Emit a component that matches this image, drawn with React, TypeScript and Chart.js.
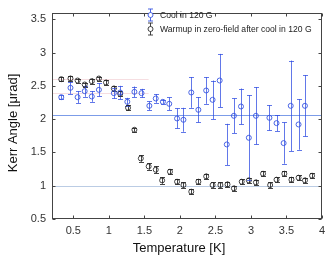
import React, { useEffect, useRef } from "react";
import { Chart, registerables } from "chart.js";

Chart.register(...registerables);

// Cool in 120 G
const coolT = [0.33, 0.46, 0.56, 0.66, 0.76, 0.86, 1.07, 1.16, 1.26, 1.36, 1.46, 1.57, 1.66, 1.76, 1.85, 1.96, 2.05, 2.16, 2.26, 2.37, 2.46, 2.56, 2.66, 2.76, 2.86, 2.97, 3.07, 3.26, 3.36, 3.46, 3.56, 3.67, 3.76];
const coolKerr = [2.33, 2.47, 2.33, 2.42, 2.34, 2.44, 2.39, 2.4, 2.26, 2.41, 2.39, 2.2, 2.31, 2.26, 2.23, 2.01, 1.99, 2.4, 2.14, 2.43, 2.29, 2.58, 1.62, 2.05, 2.19, 1.72, 2.05, 2.02, 1.94, 1.64, 2.2, 1.92, 2.2];
const coolErr = [0.03, 0.09, 0.09, 0.085, 0.08, 0.1, 0.08, 0.1, 0.06, 0.08, 0.065, 0.065, 0.065, 0.03, 0.095, 0.15, 0.18, 0.23, 0.19, 0.2, 0.29, 0.4, 0.31, 0.26, 0.27, 0.64, 0.43, 0.19, 0.12, 0.31, 0.68, 0.38, 0.46];

// Warmup in zero-field after cool in 120 G
const warmT = [0.33, 0.46, 0.56, 0.66, 0.76, 0.86, 0.96, 1.07, 1.16, 1.27, 1.36, 1.45, 1.56, 1.66, 1.75, 1.86, 1.96, 2.05, 2.16, 2.26, 2.37, 2.46, 2.57, 2.67, 2.76, 2.87, 2.97, 3.07, 3.17, 3.27, 3.36, 3.47, 3.57, 3.67, 3.76, 3.86];
const warmKerr = [2.6, 2.61, 2.58, 2.52, 2.57, 2.61, 2.55, 2.46, 2.38, 2.17, 1.84, 1.41, 1.29, 1.24, 1.08, 1.21, 1.06, 1.01, 0.91, 1.06, 1.14, 1.01, 1.01, 1.02, 0.96, 1.06, 1.08, 1.05, 1.18, 1.01, 1.09, 1.18, 1.09, 1.12, 1.08, 1.15];
const warmErr = [0.03, 0.04, 0.03, 0.03, 0.04, 0.03, 0.04, 0.04, 0.04, 0.04, 0.03, 0.05, 0.05, 0.05, 0.05, 0.04, 0.04, 0.04, 0.04, 0.04, 0.04, 0.04, 0.04, 0.04, 0.04, 0.04, 0.04, 0.04, 0.04, 0.04, 0.04, 0.04, 0.04, 0.04, 0.04, 0.04];

const seriesLabels = ["Cool in 120 G", "Warmup in zero-field after cool in 120 G"];
const xTitle = "Temperature [K]";
const yTitle = "Kerr Angle [μrad]";
const xTicks = [0.5, 1, 1.5, 2, 2.5, 3, 3.5, 4];
const yTicks = [0.5, 1, 1.5, 2, 2.5, 3, 3.5];
const refLines = [2.06, 1.0];
const faintLines = [2.61, 2.385];
const faintLineEnd = 1.56;

const FONT = "'Liberation Sans', Arial, sans-serif";
const BLUE = "rgba(45, 75, 225, 0.75)";
const BLUE_MARK = "rgba(55, 85, 225, 0.9)";
const BLACK = "rgba(35, 35, 35, 0.85)";
const errs = [coolErr, warmErr];
const colors = [BLUE, BLACK];

const decorPlugin = {
  id: "decor",
  beforeDatasetsDraw(chart: any) {
    const { ctx, chartArea: a, scales } = chart;
    const xs = scales.x;
    const ys = scales.y;
    ctx.save();
    ctx.lineWidth = 1;
    ctx.strokeStyle = "rgba(240, 200, 205, 0.6)";
    faintLines.forEach((v) => {
      const y = Math.round(ys.getPixelForValue(v)) + 0.5;
      ctx.beginPath();
      ctx.moveTo(a.left, y);
      ctx.lineTo(xs.getPixelForValue(faintLineEnd), y);
      ctx.stroke();
    });
    const refColors = ["rgba(110, 145, 230, 0.9)", "rgba(180, 198, 225, 0.9)"];
    refLines.forEach((v, i) => {
      const y = Math.round(ys.getPixelForValue(v)) + 0.5;
      ctx.strokeStyle = refColors[i];
      ctx.beginPath();
      ctx.moveTo(a.left, y);
      ctx.lineTo(a.right, y);
      ctx.stroke();
    });
    [1, 0].forEach((di) => {
      const meta = chart.getDatasetMeta(di);
      const ds = chart.data.datasets[di];
      ctx.strokeStyle = colors[di];
      ctx.lineWidth = 1;
      meta.data.forEach((el: any, j: number) => {
        const v = ds.data[j].y;
        const e = errs[di][j];
        const x = Math.round(el.x) + 0.5;
        const y1 = ys.getPixelForValue(v + e);
        const y2 = ys.getPixelForValue(v - e);
        ctx.beginPath();
        ctx.moveTo(x, y1);
        ctx.lineTo(x, y2);
        ctx.moveTo(x - 2.5, Math.round(y1) + 0.5);
        ctx.lineTo(x + 2.5, Math.round(y1) + 0.5);
        ctx.moveTo(x - 2.5, Math.round(y2) + 0.5);
        ctx.lineTo(x + 2.5, Math.round(y2) + 0.5);
        ctx.stroke();
      });
    });
    ctx.restore();
  },
  afterDraw(chart: any) {
    const { ctx, chartArea: a, scales } = chart;
    const xs = scales.x;
    const ys = scales.y;
    ctx.save();
    ctx.strokeStyle = "#444";
    ctx.lineWidth = 1;
    const L = Math.round(a.left) + 0.5;
    const R = Math.round(a.right) - 0.5;
    const T = Math.round(a.top) + 0.5;
    const B = Math.round(a.bottom) - 0.5;
    ctx.strokeRect(L, T, R - L, B - T);
    ctx.beginPath();
    xTicks.forEach((v) => {
      const x = Math.round(xs.getPixelForValue(v)) + 0.5;
      ctx.moveTo(x, B);
      ctx.lineTo(x, B - 3);
      ctx.moveTo(x, T);
      ctx.lineTo(x, T + 3);
    });
    yTicks.forEach((v) => {
      const y = Math.round(ys.getPixelForValue(v)) + 0.5;
      ctx.moveTo(L, y);
      ctx.lineTo(L + 3, y);
      ctx.moveTo(R, y);
      ctx.lineTo(R - 3, y);
    });
    ctx.stroke();

    // axis titles
    ctx.fillStyle = "#111";
    ctx.font = "13px " + FONT;
    ctx.textAlign = "center";
    ctx.textBaseline = "alphabetic";
    ctx.fillText(xTitle, 179, 251.5);
    ctx.save();
    ctx.translate(16.5, 123);
    ctx.rotate(-Math.PI / 2);
    ctx.fillText(yTitle, 0, 0);
    ctx.restore();

    // legend
    const mx = 150.5;
    const rows = [15, 29];
    const lColors = [BLUE_MARK, BLACK];
    ctx.font = "8.6px " + FONT;
    ctx.textBaseline = "middle";
    ctx.textAlign = "left";
    rows.forEach((ry, i) => {
      ctx.strokeStyle = lColors[i];
      ctx.beginPath();
      ctx.moveTo(mx, ry - 6);
      ctx.lineTo(mx, ry + 6);
      ctx.moveTo(mx - 2.5, ry - 6);
      ctx.lineTo(mx + 2.5, ry - 6);
      ctx.moveTo(mx - 2.5, ry + 6);
      ctx.lineTo(mx + 2.5, ry + 6);
      ctx.stroke();
      ctx.fillStyle = "#fff";
      ctx.beginPath();
      ctx.arc(mx, ry, 2.5, 0, Math.PI * 2);
      ctx.fill();
      ctx.stroke();
      ctx.fillStyle = "#222";
      ctx.fillText(seriesLabels[i], 160, ry + 0.5);
    });
    ctx.restore();
  },
};

export default function App() {
  const ref = useRef<HTMLCanvasElement>(null);
  useEffect(() => {
    if (!ref.current) return;
    const chart = new Chart(ref.current, {
      type: "scatter",
      data: {
        datasets: [
          {
            label: seriesLabels[0],
            data: coolT.map((t, i) => ({ x: t, y: coolKerr[i] })),
            pointRadius: 2.5,
            pointBorderWidth: 1,
            borderColor: BLUE_MARK,
            backgroundColor: "rgba(255,255,255,0)",
          },
          {
            label: seriesLabels[1],
            data: warmT.map((t, i) => ({ x: t, y: warmKerr[i] })),
            pointRadius: 2.5,
            pointBorderWidth: 1,
            borderColor: BLACK,
            backgroundColor: "rgba(255,255,255,0)",
          },
        ],
      },
      options: {
        animation: false,
        responsive: false,
        layout: { padding: { left: 0, right: 10, top: 3, bottom: 0 } },
        plugins: { legend: { display: false }, tooltip: { enabled: false } },
        scales: {
          x: {
            type: "linear",
            min: 0.2,
            max: 4,
            afterBuildTicks: (s: any) => {
              s.ticks = xTicks.map((v) => ({ value: v }));
            },
            afterFit: (s: any) => {
              s.height = 42;
            },
            grid: { display: false, drawTicks: false },
            border: { display: false },
            ticks: {
              padding: 5,
              color: "#333",
              font: { size: 11, family: FONT },
              maxRotation: 0,
              callback: (v: any) => String(v),
            },
            title: { display: false },
          },
          y: {
            type: "linear",
            min: 0.5,
            max: 3.6,
            afterBuildTicks: (s: any) => {
              s.ticks = yTicks.map((v) => ({ value: v }));
            },
            afterFit: (s: any) => {
              s.width = 52;
            },
            grid: { display: false, drawTicks: false },
            border: { display: false },
            ticks: {
              padding: 6,
              color: "#333",
              font: { size: 11, family: FONT },
              callback: (v: any) => String(v),
            },
            title: { display: false },
          },
        },
      },
      plugins: [decorPlugin],
    } as any);
    return () => chart.destroy();
  }, []);
  return (
    <div style={{ position: "absolute", left: 0, top: 0, width: 332, height: 261, background: "#fff" }}>
      <canvas ref={ref} width={332} height={261} />
    </div>
  );
}
